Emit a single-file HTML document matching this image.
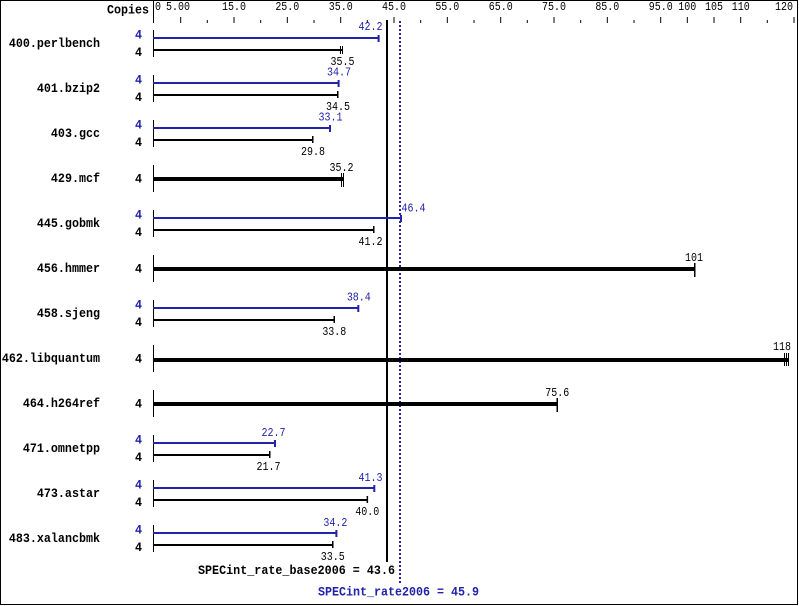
<!DOCTYPE html>
<html><head><meta charset="utf-8"><style>
html,body{margin:0;padding:0;background:#fff;}
svg{display:block;}
text{font-family:"Liberation Mono",monospace;}
.b{font-weight:bold;font-size:11.7px;}
.n{font-size:10px;}
</style></head><body>
<svg width="799" height="606" viewBox="0 0 799 606" xmlns="http://www.w3.org/2000/svg">
<rect x="0" y="0" width="799" height="606" fill="#fff"/>
<rect x="0.5" y="0.5" width="797" height="604" fill="none" stroke="#000" stroke-width="1"/>

<!-- header -->
<text class="b" transform="translate(107 13.5) scale(1 1.1)" fill="#000">Copies</text>
<rect x="153" y="1" width="1" height="22" fill="#000"/>

<!-- tick labels -->
<g fill="#000">
<text class="n" transform="translate(155 10) scale(1 1.2)">0</text>
<text class="n" transform="translate(178 10) scale(1 1.2)" text-anchor="middle">5.00</text>
<text class="n" transform="translate(234 10) scale(1 1.2)" text-anchor="middle">15.0</text>
<text class="n" transform="translate(287.3 10) scale(1 1.2)" text-anchor="middle">25.0</text>
<text class="n" transform="translate(340.7 10) scale(1 1.2)" text-anchor="middle">35.0</text>
<text class="n" transform="translate(394 10) scale(1 1.2)" text-anchor="middle">45.0</text>
<text class="n" transform="translate(447.3 10) scale(1 1.2)" text-anchor="middle">55.0</text>
<text class="n" transform="translate(500.7 10) scale(1 1.2)" text-anchor="middle">65.0</text>
<text class="n" transform="translate(554 10) scale(1 1.2)" text-anchor="middle">75.0</text>
<text class="n" transform="translate(607.3 10) scale(1 1.2)" text-anchor="middle">85.0</text>
<text class="n" transform="translate(660.7 10) scale(1 1.2)" text-anchor="middle">95.0</text>
<text class="n" transform="translate(687.3 10) scale(1 1.2)" text-anchor="middle">100</text>
<text class="n" transform="translate(714 10) scale(1 1.2)" text-anchor="middle">105</text>
<text class="n" transform="translate(740.7 10) scale(1 1.2)" text-anchor="middle">110</text>
<text class="n" transform="translate(793 10) scale(1 1.2)" text-anchor="end">120</text>
</g>

<!-- ticks -->
<g fill="#000">
<rect x="180.2" y="17" width="1" height="6"/>
<rect x="233.5" y="17" width="1" height="6"/>
<rect x="286.8" y="17" width="1" height="6"/>
<rect x="340.2" y="17" width="1" height="6"/>
<rect x="393.5" y="17" width="1" height="6"/>
<rect x="446.8" y="17" width="1" height="6"/>
<rect x="500.2" y="17" width="1" height="6"/>
<rect x="553.5" y="17" width="1" height="6"/>
<rect x="606.8" y="17" width="1" height="6"/>
<rect x="660.2" y="17" width="1" height="6"/>
<rect x="686.8" y="17" width="1" height="6"/>
<rect x="713.5" y="17" width="1" height="6"/>
<rect x="740.2" y="17" width="1" height="6"/>
<rect x="793.5" y="17" width="1" height="6"/>
<rect x="206.8" y="20" width="1" height="3"/>
<rect x="260.2" y="20" width="1" height="3"/>
<rect x="313.5" y="20" width="1" height="3"/>
<rect x="366.8" y="20" width="1" height="3"/>
<rect x="420.2" y="20" width="1" height="3"/>
<rect x="473.5" y="20" width="1" height="3"/>
<rect x="526.8" y="20" width="1" height="3"/>
<rect x="580.2" y="20" width="1" height="3"/>
<rect x="633.5" y="20" width="1" height="3"/>
<rect x="766.8" y="20" width="1" height="3"/>
</g>

<!-- reference lines -->
<rect x="386" y="20" width="2" height="542" fill="#000"/>
<line x1="400" y1="21" x2="400" y2="583" stroke="#2222aa" stroke-width="2" stroke-dasharray="2,2"/>

<!-- 0: 400.perlbench y0=30 -->
<g>
<text class="b" transform="translate(100 47) scale(1 1.1)" text-anchor="end" fill="#000">400.perlbench</text>
<text class="b" transform="translate(142 38.3) scale(1 1.1)" text-anchor="end" fill="#2222aa">4</text>
<text class="b" transform="translate(142 56) scale(1 1.1)" text-anchor="end" fill="#000">4</text>
<rect x="153" y="30" width="1" height="27" fill="#000"/>
<rect x="153" y="37" width="226.1" height="2" fill="#2222aa"/>
<rect x="377.6" y="35" width="2" height="7" fill="#2222aa"/>
<text class="n" transform="translate(382.5 30) scale(1 1.2)" text-anchor="end" fill="#2222aa">42.2</text>
<rect x="153" y="49" width="190" height="2" fill="#000"/>
<rect x="340" y="46" width="1" height="8" fill="#000"/>
<rect x="342" y="46" width="1" height="8" fill="#000"/>
<text class="n" transform="translate(342.5 65) scale(1 1.2)" text-anchor="middle" fill="#000">35.5</text>
</g>

<!-- 1: 401.bzip2 y0=75 -->
<g>
<text class="b" transform="translate(100 92) scale(1 1.1)" text-anchor="end" fill="#000">401.bzip2</text>
<text class="b" transform="translate(142 83.3) scale(1 1.1)" text-anchor="end" fill="#2222aa">4</text>
<text class="b" transform="translate(142 101) scale(1 1.1)" text-anchor="end" fill="#000">4</text>
<rect x="153" y="75" width="1" height="27" fill="#000"/>
<rect x="153" y="82" width="186" height="2" fill="#2222aa"/>
<rect x="337.6" y="80" width="2" height="7" fill="#2222aa"/>
<text class="n" transform="translate(339 75.5) scale(1 1.2)" text-anchor="middle" fill="#2222aa">34.7</text>
<rect x="153" y="94" width="185" height="2" fill="#000"/>
<rect x="337" y="91" width="1.5" height="7" fill="#000"/>
<text class="n" transform="translate(338 110) scale(1 1.2)" text-anchor="middle" fill="#000">34.5</text>
</g>

<!-- 2: 403.gcc y0=120 -->
<g>
<text class="b" transform="translate(100 137) scale(1 1.1)" text-anchor="end" fill="#000">403.gcc</text>
<text class="b" transform="translate(142 128.3) scale(1 1.1)" text-anchor="end" fill="#2222aa">4</text>
<text class="b" transform="translate(142 146) scale(1 1.1)" text-anchor="end" fill="#000">4</text>
<rect x="153" y="120" width="1" height="27" fill="#000"/>
<rect x="153" y="127" width="177.5" height="2" fill="#2222aa"/>
<rect x="329" y="125" width="2" height="7" fill="#2222aa"/>
<text class="n" transform="translate(330.5 120.5) scale(1 1.2)" text-anchor="middle" fill="#2222aa">33.1</text>
<rect x="153" y="139" width="160" height="2" fill="#000"/>
<rect x="312" y="136" width="1.5" height="7" fill="#000"/>
<text class="n" transform="translate(313 155) scale(1 1.2)" text-anchor="middle" fill="#000">29.8</text>
</g>

<!-- 3: 429.mcf y0=165 single -->
<g>
<text class="b" transform="translate(100 182) scale(1 1.1)" text-anchor="end" fill="#000">429.mcf</text>
<text class="b" transform="translate(142 182.7) scale(1 1.1)" text-anchor="end" fill="#000">4</text>
<rect x="153" y="165" width="1" height="27" fill="#000"/>
<rect x="153" y="177" width="190" height="4" fill="#000"/>
<rect x="341" y="173" width="1" height="14" fill="#000"/>
<rect x="343" y="173" width="1" height="14" fill="#000"/>
<text class="n" transform="translate(341.5 171) scale(1 1.2)" text-anchor="middle" fill="#000">35.2</text>
</g>

<!-- 4: 445.gobmk y0=210 -->
<g>
<text class="b" transform="translate(100 227) scale(1 1.1)" text-anchor="end" fill="#000">445.gobmk</text>
<text class="b" transform="translate(142 218.3) scale(1 1.1)" text-anchor="end" fill="#2222aa">4</text>
<text class="b" transform="translate(142 236) scale(1 1.1)" text-anchor="end" fill="#000">4</text>
<rect x="153" y="210" width="1" height="27" fill="#000"/>
<rect x="153" y="217" width="248.5" height="2" fill="#2222aa"/>
<rect x="400" y="215" width="2" height="7" fill="#2222aa"/>
<text class="n" transform="translate(401.5 211.7) scale(1 1.2)" fill="#2222aa">46.4</text>
<rect x="153" y="229" width="220.7" height="2" fill="#000"/>
<rect x="373" y="226" width="1.5" height="7" fill="#000"/>
<text class="n" transform="translate(382.5 245) scale(1 1.2)" text-anchor="end" fill="#000">41.2</text>
</g>

<!-- 5: 456.hmmer y0=255 single -->
<g>
<text class="b" transform="translate(100 272) scale(1 1.1)" text-anchor="end" fill="#000">456.hmmer</text>
<text class="b" transform="translate(142 272.7) scale(1 1.1)" text-anchor="end" fill="#000">4</text>
<rect x="153" y="255" width="1" height="27" fill="#000"/>
<rect x="153" y="267" width="541" height="4" fill="#000"/>
<rect x="694" y="263" width="1.5" height="14" fill="#000"/>
<text class="n" transform="translate(694 261) scale(1 1.2)" text-anchor="middle" fill="#000">101</text>
</g>

<!-- 6: 458.sjeng y0=300 -->
<g>
<text class="b" transform="translate(100 317) scale(1 1.1)" text-anchor="end" fill="#000">458.sjeng</text>
<text class="b" transform="translate(142 308.3) scale(1 1.1)" text-anchor="end" fill="#2222aa">4</text>
<text class="b" transform="translate(142 326) scale(1 1.1)" text-anchor="end" fill="#000">4</text>
<rect x="153" y="300" width="1" height="27" fill="#000"/>
<rect x="153" y="307" width="205.8" height="2" fill="#2222aa"/>
<rect x="357.3" y="305" width="2" height="7" fill="#2222aa"/>
<text class="n" transform="translate(358.8 300.5) scale(1 1.2)" text-anchor="middle" fill="#2222aa">38.4</text>
<rect x="153" y="319" width="181.3" height="2" fill="#000"/>
<rect x="333.5" y="316" width="1.5" height="7" fill="#000"/>
<text class="n" transform="translate(334.3 335) scale(1 1.2)" text-anchor="middle" fill="#000">33.8</text>
</g>

<!-- 7: 462.libquantum y0=345 single -->
<g>
<text class="b" transform="translate(100 362) scale(1 1.1)" text-anchor="end" fill="#000">462.libquantum</text>
<text class="b" transform="translate(142 362.7) scale(1 1.1)" text-anchor="end" fill="#000">4</text>
<rect x="153" y="345" width="1" height="27" fill="#000"/>
<rect x="153" y="358" width="635" height="4" fill="#000"/>
<rect x="784" y="353" width="1" height="13" fill="#000"/>
<rect x="786" y="353" width="1" height="13" fill="#000"/>
<rect x="788" y="353" width="1" height="13" fill="#000"/>
<text class="n" transform="translate(782 350) scale(1 1.2)" text-anchor="middle" fill="#000">118</text>
</g>

<!-- 8: 464.h264ref y0=390 single -->
<g>
<text class="b" transform="translate(100 407) scale(1 1.1)" text-anchor="end" fill="#000">464.h264ref</text>
<text class="b" transform="translate(142 407.7) scale(1 1.1)" text-anchor="end" fill="#000">4</text>
<rect x="153" y="390" width="1" height="27" fill="#000"/>
<rect x="153" y="402" width="404.5" height="4" fill="#000"/>
<rect x="556.5" y="398" width="1.5" height="14" fill="#000"/>
<text class="n" transform="translate(557.2 396) scale(1 1.2)" text-anchor="middle" fill="#000">75.6</text>
</g>

<!-- 9: 471.omnetpp y0=435 -->
<g>
<text class="b" transform="translate(100 452) scale(1 1.1)" text-anchor="end" fill="#000">471.omnetpp</text>
<text class="b" transform="translate(142 443.3) scale(1 1.1)" text-anchor="end" fill="#2222aa">4</text>
<text class="b" transform="translate(142 461) scale(1 1.1)" text-anchor="end" fill="#000">4</text>
<rect x="153" y="435" width="1" height="27" fill="#000"/>
<rect x="153" y="442" width="122" height="2" fill="#2222aa"/>
<rect x="274" y="440" width="2" height="7" fill="#2222aa"/>
<text class="n" transform="translate(273.5 436) scale(1 1.2)" text-anchor="middle" fill="#2222aa">22.7</text>
<rect x="153" y="454" width="116.7" height="2" fill="#000"/>
<rect x="269" y="451" width="1.5" height="7" fill="#000"/>
<text class="n" transform="translate(268.5 470) scale(1 1.2)" text-anchor="middle" fill="#000">21.7</text>
</g>

<!-- 10: 473.astar y0=480 -->
<g>
<text class="b" transform="translate(100 497) scale(1 1.1)" text-anchor="end" fill="#000">473.astar</text>
<text class="b" transform="translate(142 488.3) scale(1 1.1)" text-anchor="end" fill="#2222aa">4</text>
<text class="b" transform="translate(142 506) scale(1 1.1)" text-anchor="end" fill="#000">4</text>
<rect x="153" y="480" width="1" height="27" fill="#000"/>
<rect x="153" y="487" width="221.3" height="2" fill="#2222aa"/>
<rect x="373.3" y="485" width="2" height="7" fill="#2222aa"/>
<text class="n" transform="translate(382.5 481) scale(1 1.2)" text-anchor="end" fill="#2222aa">41.3</text>
<rect x="153" y="499" width="214.3" height="2" fill="#000"/>
<rect x="366.6" y="496" width="1.5" height="7" fill="#000"/>
<text class="n" transform="translate(367.3 515) scale(1 1.2)" text-anchor="middle" fill="#000">40.0</text>
</g>

<!-- 11: 483.xalancbmk y0=525 -->
<g>
<text class="b" transform="translate(100 542) scale(1 1.1)" text-anchor="end" fill="#000">483.xalancbmk</text>
<text class="b" transform="translate(142 533.3) scale(1 1.1)" text-anchor="end" fill="#2222aa">4</text>
<text class="b" transform="translate(142 551) scale(1 1.1)" text-anchor="end" fill="#000">4</text>
<rect x="153" y="525" width="1" height="27" fill="#000"/>
<rect x="153" y="532" width="183.4" height="2" fill="#2222aa"/>
<rect x="335.4" y="530" width="2" height="7" fill="#2222aa"/>
<text class="n" transform="translate(335.4 526) scale(1 1.2)" text-anchor="middle" fill="#2222aa">34.2</text>
<rect x="153" y="544" width="179.7" height="2" fill="#000"/>
<rect x="332" y="541" width="1.5" height="7" fill="#000"/>
<text class="n" transform="translate(332.7 560) scale(1 1.2)" text-anchor="middle" fill="#000">33.5</text>
</g>

<!-- summary -->
<text class="b" transform="translate(198 574) scale(1 1.1)" textLength="197" lengthAdjust="spacing" fill="#000">SPECint_rate_base2006 = 43.6</text>
<text class="b" transform="translate(318 595.5) scale(1 1.1)" textLength="161" lengthAdjust="spacing" fill="#2222aa">SPECint_rate2006 = 45.9</text>
</svg>
</body></html>
